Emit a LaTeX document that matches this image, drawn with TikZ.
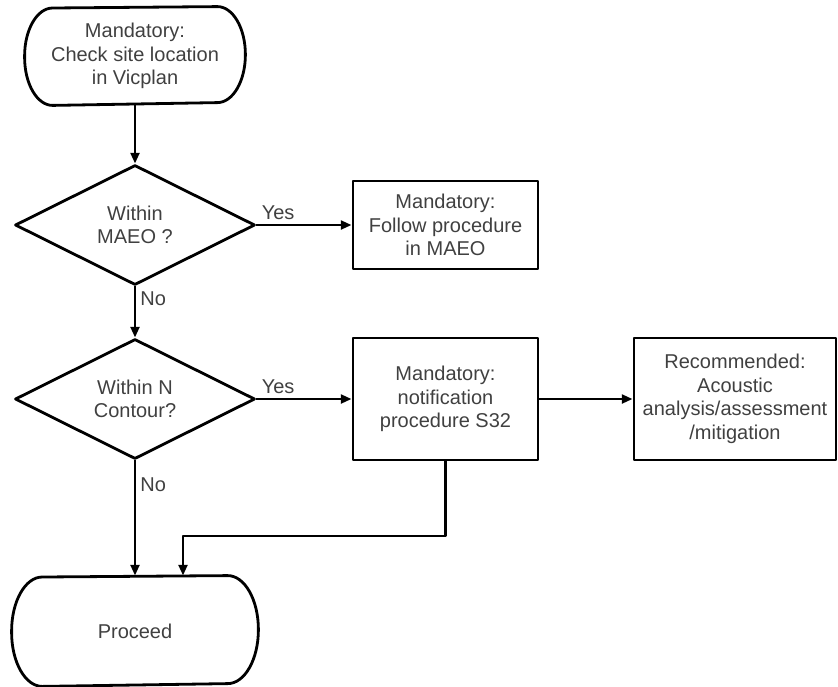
\documentclass[tikz,border=0pt]{standalone}
\usepackage{fontspec}
\setmainfont{Liberation Sans}
\usetikzlibrary{arrows.meta, shapes.geometric, positioning}
\tikzset{every node/.append style={align=center}}
\definecolor{textgray}{RGB}{64,64,64}

\begin{document}
\begin{tikzpicture}[x=0.75pt, y=0.75pt,
  line width=2.1pt, line join=round,
  every node/.append style={font=\fontsize{15}{17.6}\selectfont, text=textgray},
  termbox/.style={rectangle, inner sep=0pt},
  decide/.style={draw, diamond, aspect=2, inner sep=0pt,
                 minimum width=180pt, minimum height=90pt},
  procbox/.style={draw, rectangle, inner sep=0pt},
  arr/.style={-{Triangle[length=8pt, width=6.5pt]}},
  lbl/.style={inner sep=3pt}]

\useasboundingbox (0,0) rectangle (838,-686);

% ── Main column ──────────────────────────────────────────────────────────────
\node[termbox, minimum width=163.5pt, minimum height=72pt]
     (start) at (135,-56) {Mandatory:\\Check site location\\in Vicplan};
\node[decide] (maeoq) at (135,-225) {Within\\MAEO ?};
\node[decide] (contq) at (135,-399) {Within N\\Contour?};
\node[termbox, minimum width=183pt, minimum height=81pt]
     (proceed) at (135,-631) {Proceed};

% terminal outlines (elliptical ends)
\draw (start.west)
      arc[start angle=180, end angle=90, x radius=21pt, y radius=36pt]
      -- ([xshift=-21pt]start.north east)
      arc[start angle=90, end angle=-90, x radius=21pt, y radius=36pt]
      -- ([xshift=21pt]start.south west)
      arc[start angle=270, end angle=180, x radius=21pt, y radius=36pt] -- cycle;
\draw (proceed.west)
      arc[start angle=180, end angle=90, x radius=23pt, y radius=40.5pt]
      -- ([xshift=-23pt]proceed.north east)
      arc[start angle=90, end angle=-90, x radius=23pt, y radius=40.5pt]
      -- ([xshift=23pt]proceed.south west)
      arc[start angle=270, end angle=180, x radius=23pt, y radius=40.5pt] -- cycle;

% ── Process boxes (right) ────────────────────────────────────────────────────
\node[procbox, minimum width=138.75pt, minimum height=66pt]
     (maeo) at (445.5,-225) {Mandatory:\\Follow procedure\\in MAEO};
\node[procbox, minimum width=138.75pt, minimum height=91.5pt]
     (notif) at (445.5,-399) {Mandatory:\\notification\\procedure S32};
\node[procbox, minimum width=151.5pt, minimum height=91.5pt]
     (recom) at (735,-399) {Recommended:\\Acoustic\\analysis/assessment\\/mitigation};

% ── Connectors ───────────────────────────────────────────────────────────────
\draw[arr] (start) -- (maeoq);
\draw[arr] (maeoq.east) -- node[lbl, pos=0, anchor=south west]{Yes} (maeo.west);
\draw[arr] (maeoq.south) -- node[lbl, pos=0, anchor=north west]{No} (contq.north);
\draw[arr] (contq.east) -- node[lbl, pos=0, anchor=south west]{Yes} (notif.west);
\draw[arr] (notif) -- (recom);
\draw[arr] (contq.south) -- node[lbl, pos=0.1, anchor=north west]{No} (proceed.north);
\coordinate (join) at (183,-536);
\draw[arr] (notif.south) |- (join) -- (join |- proceed.north);

\end{tikzpicture}
\end{document}
